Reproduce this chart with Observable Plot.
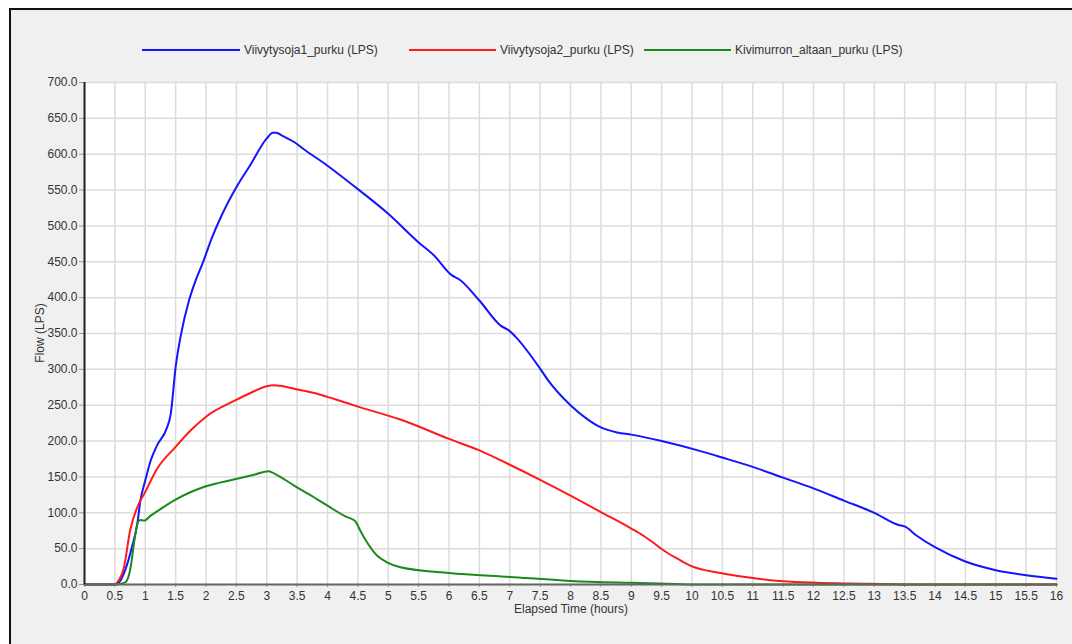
<!DOCTYPE html>
<html>
<head>
<meta charset="utf-8">
<script src="https://cdn.jsdelivr.net/npm/d3@7"></script>
<script src="https://cdn.jsdelivr.net/npm/@observablehq/plot@0.6"></script>
<style>
  html, body { margin: 0; padding: 0; background: #fff; width: 1072px; height: 644px; overflow: hidden; }
  body { position: relative; font-family: "Liberation Sans", Arial, sans-serif; color: #333; }
  #frame { position: absolute; left: 9px; top: 8px; width: 1100px; height: 700px; border-left: 2px solid #111; border-top: 2px solid #111; background: #f0f0f0; }
  #chart { position: absolute; left: 0; top: 0; }
  .leg { position: absolute; top: 43px; font-size: 12px; color: #333; white-space: nowrap; line-height: 14px; }
  .legline { position: absolute; top: 49px; height: 2px; }
  .ttl { position: absolute; font-size: 12px; color: #333; white-space: nowrap; }
</style>
</head>
<body>
<div id="frame"></div>
<div id="chart"></div>
<div id="legend"></div>
<div class="ttl" id="ylab" style="left:40px; top:333px; transform: translate(-50%,-50%) rotate(-90deg);">Flow (LPS)</div>
<div class="ttl" id="xlab" style="left:571px; top:609px; transform: translate(-50%,-50%);">Elapsed Time (hours)</div>
<script>
// ---- Data ----
const seriesNames = ["Viivytysoja1_purku (LPS)", "Viivytysoja2_purku (LPS)", "Kivimurron_altaan_purku (LPS)"];
const seriesColors = ["#1414ff", "#ff1a1a", "#1a8a1a"];

const hours1 = [0, 0.5, 0.57, 0.67, 0.78, 0.87, 0.92, 1.0, 1.09, 1.2, 1.35, 1.42, 1.5, 1.58, 1.72, 1.83, 1.94, 2.1, 2.27, 2.5, 2.73, 3.0, 3.1, 3.16, 3.25, 3.45, 3.61, 4.0, 4.49, 5.0, 5.5, 5.75, 6.05, 6.16, 6.5, 6.85, 6.99, 7.1, 7.5, 7.62, 8.0, 8.27, 8.5, 8.77, 9.0, 9.5, 10.14, 10.5, 11, 11.5, 12, 12.5, 13, 13.4, 13.5, 13.7, 14, 14.5, 15, 15.5, 16];
const flow1  = [0, 0, 3, 20, 52, 85, 117, 145, 173, 195, 217, 238, 303, 345, 396, 424, 447, 484, 517, 554, 585, 622, 630, 630, 626, 617, 607, 584, 552, 517, 477, 459, 431, 426, 396, 361, 354, 345, 301, 286, 250, 231, 219, 212, 209, 200, 186, 177, 164, 149, 134, 117, 100, 83, 81, 68, 52, 32, 20, 13, 8];

const hours2 = [0, 0.5, 0.55, 0.65, 0.75, 0.87, 0.92, 0.98, 1.2, 1.5, 1.75, 2.0, 2.49, 2.73, 2.98, 3.12, 3.23, 3.45, 3.83, 4.1, 4.54, 5.2, 6.0, 6.5, 7.0, 7.5, 8.0, 8.5, 9.0, 9.2, 9.32, 9.54, 9.76, 9.98, 10.47, 11.0, 11.5, 12.05, 12.6, 13.3, 13.5, 16];
const flow2  = [0, 0, 4, 24, 75, 108, 117, 126, 162, 192, 215, 234, 257, 267, 276, 278, 277, 273, 266, 259, 247, 230, 203, 187, 167, 146, 124, 101, 78, 68, 61, 47, 36, 26, 16, 9, 4.6, 2.5, 1.4, 0.5, 0, 0];

const hours3 = [0, 0.51, 0.67, 0.76, 0.82, 0.88, 0.92, 0.98, 1.09, 1.25, 1.47, 1.75, 2.0, 2.49, 2.79, 3.03, 3.14, 3.45, 3.77, 4.0, 4.32, 4.41, 4.46, 4.54, 4.65, 4.82, 4.98, 5.2, 6.0, 7.0, 8.0, 9.0, 9.6, 10, 16];
const flow3  = [0, 0, 3, 24, 61, 87, 90, 89, 96, 105, 117, 129, 137, 147, 153, 158, 154, 138, 122, 110, 94, 91, 88, 75, 59, 40, 31, 24, 16, 10.5, 5, 2.3, 1, 0, 0];

const xTicks = d3.range(0, 16.01, 0.5);
const yTicks = d3.range(0, 701, 50);

// ---- Build table ----
const allHours = [hours1, hours2, hours3];
const allFlows = [flow1, flow2, flow3];
const rows = [];
allHours.forEach((hs, i) => hs.forEach((h, j) => rows.push({series: seriesNames[i], hour: h, flow: allFlows[i][j]})));

const chart = Plot.plot({
  width: 1072,
  height: 644,
  marginLeft: 84,
  marginRight: 16,
  marginTop: 82,
  marginBottom: 60,
  style: {background: "transparent", fontFamily: "'Liberation Sans', Arial, sans-serif", fontSize: "12px", color: "#333"},
  x: {domain: [0, 16]},
  y: {domain: [0, 700]},
  color: {domain: seriesNames, range: seriesColors},
  marks: [
    Plot.frame({fill: "white", stroke: "#a8a8a8", strokeWidth: 1}),
    Plot.gridX(xTicks, {stroke: "#dcdcdc", strokeOpacity: 1, strokeWidth: 1.5}),
    Plot.gridY(yTicks, {stroke: "#dcdcdc", strokeOpacity: 1, strokeWidth: 1.5}),
    Plot.axisY(yTicks, {tickFormat: d => d.toFixed(1), tickSize: 5, tickPadding: 2, stroke: "#999", label: null, fill: "#333"}),
    Plot.axisX(xTicks, {tickFormat: d => String(d), tickSize: 3, tickPadding: 4, stroke: "#999", label: null, fill: "#333"}),
    Plot.line(rows, {x: "hour", y: "flow", z: "series", stroke: "series", strokeWidth: 2, curve: "monotone-x"}),
    Plot.ruleY([0], {stroke: "#666", strokeWidth: 2}),
    Plot.ruleX([0], {stroke: "#222", strokeWidth: 2})
  ]
});
document.getElementById("chart").appendChild(chart);

// ---- Legend ----
const legendLines = [[142, 240], [409, 496], [644, 731]];
const legend = document.getElementById("legend");
seriesNames.forEach((name, i) => {
  const ln = document.createElement("div");
  ln.className = "legline";
  ln.style.left = legendLines[i][0] + "px";
  ln.style.width = (legendLines[i][1] - legendLines[i][0]) + "px";
  ln.style.background = seriesColors[i];
  legend.appendChild(ln);
  const tx = document.createElement("div");
  tx.className = "leg";
  tx.style.left = (legendLines[i][1] + 4) + "px";
  tx.textContent = name;
  legend.appendChild(tx);
});
</script>
</body>
</html>
